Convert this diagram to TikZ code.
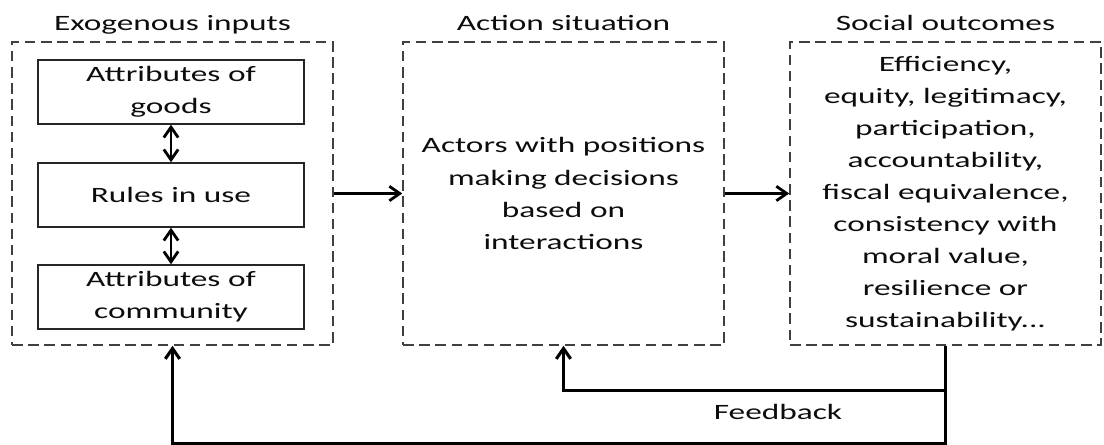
\documentclass[tikz,border=0pt]{standalone}
\usepackage{fontspec}
\newfontfamily\calfont[FakeStretch=1.52]{Carlito}
\usetikzlibrary{positioning, arrows.meta}

\begin{document}
\begin{tikzpicture}[
    >={Straight Barb[length=2.6mm, width=3.6mm]},
    font=\calfont\fontsize{15.6pt}{22.8pt}\selectfont,
    outerbox/.style={rectangle, draw=black!75, line width=1.1pt, dash pattern=on 7.5pt off 4pt, align=center, minimum width=#1, minimum height=7.575cm, inner sep=0pt, text=black!95},
    innerbox/.style={rectangle, draw=black!85, line width=1pt, align=center, minimum width=6.65cm, minimum height=1.6cm, inner sep=0pt, text=black!95},
    headtext/.style={text=black!95, inner sep=0pt, text depth=4pt},
    flow/.style={->, line width=2pt},
    fbline/.style={->, line width=2.2pt},
]

\useasboundingbox (0,0) rectangle (27.6,-11.125);

% the three stages
\node[outerbox=8.025cm] (exo) at (4.3125, -4.8375) {};
\node[outerbox=8.025cm] (act) at (14.0875, -4.8375) {Actors with positions\\making decisions\\based on\\interactions};
\node[outerbox=7.775cm] (out) at (23.6375, -4.8375) {Efficiency,\\equity, legitimacy,\\participation,\\accountability,\\fiscal equivalence,\\consistency with\\moral value,\\resilience or\\sustainability...};

\node[headtext, above=0.13cm of exo] (exotitle) {Exogenous inputs};
\node[headtext, above=0.13cm of act] (acttitle) {Action situation};
\node[headtext, above=0.13cm of out] (outtitle) {Social outcomes};

% exogenous inputs
\node[innerbox] (goods) at (4.275, -2.3) {Attributes of\\goods};
\node[innerbox] (rules) at (4.275, -4.875) {Rules in use};
\node[innerbox] (comm)  at (4.275, -7.425) {Attributes of\\community};

\draw[<->, line width=2pt] (goods.south) -- (rules.north);
\draw[<->, line width=2pt] (rules.south) -- (comm.north);

\draw[flow] (exo.east) -- (act.west);
\draw[flow] (act.east) -- (out.west);

% feedback loops
\draw[fbline] (out.south) -- ++(0,-1.125) -| (act.south);
\draw[fbline] (out.south) -- ++(0,-2.45) -| (exo.south);

\node[headtext] (fb) at (19.45, -10.375) {Feedback};

\end{tikzpicture}
\end{document}
